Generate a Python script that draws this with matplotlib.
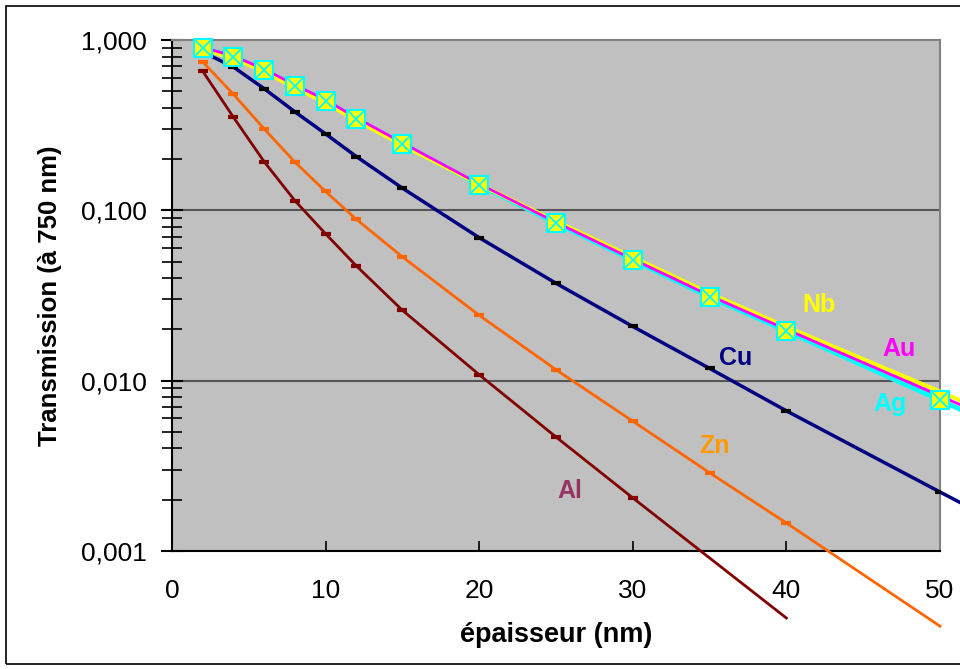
import matplotlib
matplotlib.use("Agg")
import matplotlib.pyplot as plt
from matplotlib.patches import Rectangle
from matplotlib.ticker import FixedLocator, LogLocator, NullFormatter

plt.rcParams["font.family"] = ["Liberation Sans", "DejaVu Sans"]

# épaisseur (nm)
x_full = [2, 4, 6, 8, 10, 12, 15, 20, 25, 30, 35, 40, 50, 60]
x_zn = [2, 4, 6, 8, 10, 12, 15, 20, 25, 30, 35, 40, 50]
x_al = [2, 4, 6, 8, 10, 12, 15, 20, 25, 30, 35, 40]

# transmission à 750 nm
t_ag = [0.897, 0.795, 0.667, 0.537, 0.438, 0.344, 0.245, 0.141, 0.0842,
        0.0511, 0.0310, 0.0196, 0.00769, 0.00295]
t_au = [0.905, 0.805, 0.675, 0.545, 0.445, 0.350, 0.249, 0.143, 0.0850,
        0.0517, 0.0316, 0.0200, 0.00815, 0.00325]
t_nb = [0.885, 0.782, 0.652, 0.525, 0.428, 0.337, 0.242, 0.142, 0.0862,
        0.0530, 0.0325, 0.0207, 0.00862, 0.00350]
t_cu = [0.850, 0.694, 0.518, 0.379, 0.281, 0.207, 0.135, 0.0691, 0.0373,
        0.0208, 0.0118, 0.00665, 0.00222, 0.00075]
t_zn = [0.744, 0.480, 0.301, 0.192, 0.129, 0.0886, 0.0533, 0.0242, 0.0116,
        0.00578, 0.00288, 0.00146, 0.000362]
t_al = [0.656, 0.352, 0.193, 0.114, 0.0728, 0.0472, 0.0259, 0.01084,
        0.00467, 0.00205, 0.00091, 0.000404]

fig = plt.figure(figsize=(9.6, 6.69), dpi=100)
ax = fig.add_axes([172 / 960, 1 - 551 / 669, 768 / 960, 511 / 669])
ax.set_facecolor("#C0C0C0")

# outer chart frame
fig.patches.append(Rectangle((6 / 960, 5 / 669), 1.1, 658 / 669,
                             transform=fig.transFigure, fill=False,
                             edgecolor="black", linewidth=1.2))

ax.set_yscale("log")
ax.set_xlim(0, 50)
ax.set_ylim(0.001, 1.0)

for y in [0.01, 0.1]:
    ax.axhline(y, color="#555555", linewidth=1.5, zorder=1)

# Al, Zn, Cu: lines run past the plot area, markers stay inside
dash = dict(linestyle="none", marker="_", ms=7, mew=3, zorder=3)
ax.plot(x_al, t_al, color="#800000", linewidth=2, clip_on=False, zorder=3)
ax.plot(x_al, t_al, color="#800000", **dash)
ax.plot(x_zn, t_zn, color="#FF6600", linewidth=2, clip_on=False, zorder=3)
ax.plot(x_zn, t_zn, color="#FF6600", **dash)
ax.plot(x_full, t_cu, color="#000080", linewidth=2.5, clip_on=False, zorder=3)
ax.plot(x_full[1:], t_cu[1:], color="black", **dash)

# Ag / Au / Nb
ax.plot(x_full, t_ag, color="#00FFFF", linewidth=3.5, clip_on=False, zorder=4)
ax.plot(x_full, t_au, color="#FF00FF", linewidth=2, clip_on=False, zorder=5)
ax.plot(x_full, t_nb, color="#FFFF00", linewidth=3, clip_on=False, zorder=4)
ax.plot(x_full[:-1], t_ag[:-1], linestyle="none", marker="s", ms=13,
        mfc="#FFFF00", mec="#00FFFF", mew=1.5, clip_on=False, zorder=6)
ax.plot(x_full[:-1], t_ag[:-1], linestyle="none", marker="x", ms=11,
        color="#00FFFF", mew=1.3, clip_on=False, zorder=7)

label_kw = dict(fontsize=18, fontweight="bold", ha="center", va="center",
                zorder=8)
ax.text(42.1, 0.0278, "Nb", color="#FFFF00", **label_kw)
ax.text(47.3, 0.0153, "Au", color="#FF00FF", **label_kw)
ax.text(46.75, 0.00729, "Ag", color="#00FFFF", **label_kw)
ax.text(36.7, 0.0136, "Cu", color="#000080", **label_kw)
ax.text(35.3, 0.00413, "Zn", color="#FF9900", **label_kw)
ax.text(25.9, 0.00225, "Al", color="#993366", **label_kw)

ax.yaxis.set_major_locator(FixedLocator([0.001, 0.01, 0.1, 1.0]))
ax.set_yticklabels(["0,001", "0,010", "0,100", "1,000"])
ax.yaxis.set_minor_locator(LogLocator(base=10, subs=range(2, 10)))
ax.yaxis.set_minor_formatter(NullFormatter())
ax.set_xticks([0, 10, 20, 30, 40, 50])

ax.tick_params(axis="y", which="major", direction="inout", length=16,
               width=1.5, labelsize=19, pad=10)
ax.tick_params(axis="y", which="minor", direction="inout", length=14,
               width=1.2)
ax.tick_params(axis="x", direction="in", length=7, width=1.2,
               labelsize=19, pad=20)

for side in ["left", "bottom"]:
    ax.spines[side].set_color("black")
    ax.spines[side].set_linewidth(1.5)
for side in ["top", "right"]:
    ax.spines[side].set_color("#808080")
    ax.spines[side].set_linewidth(1.5)

ax.set_xlabel("épaisseur (nm)", fontsize=19.5, fontweight="bold", labelpad=14)
ax.set_ylabel("Transmission (à 750 nm)", fontsize=18.5, fontweight="bold",
              labelpad=14)

fig.savefig("out.png", dpi=100)
